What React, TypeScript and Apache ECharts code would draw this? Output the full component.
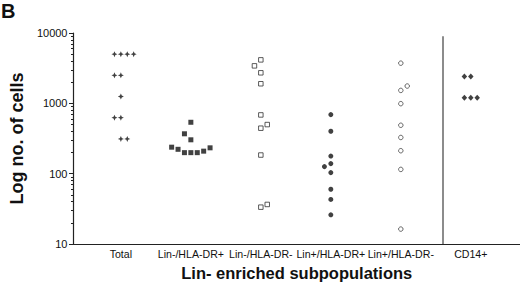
import React, { useEffect, useRef } from "react";
import * as echarts from "echarts";

// ---- data ----
const categories = ["Total", "Lin-/HLA-DR+", "Lin-/HLA-DR-", "Lin+/HLA-DR+", "Lin+/HLA-DR-", "CD14+"];
const yMajorTicks = [10, 100, 1000, 10000];
const yMinorTicks = [20, 30, 40, 50, 60, 70, 80, 90, 200, 300, 400, 500, 600, 700, 800, 900, 2000, 3000, 4000, 5000, 6000, 7000, 8000, 9000];

const totalValues = [5000, 5000, 5000, 5000, 2500, 2500, 1250, 625, 625, 312, 312];
const totalJitter = [-1, 0, 1, 2, -1, 0, 0, -1, 0, 0, 1];

const linNegDrPosValues = [538, 369, 303, 238, 222, 199, 199, 199, 209, 233];
const linNegDrPosJitter = [0, -1, 0, -3, -2, -1, 0, 1, 2, 3];

const linNegDrNegValues = [4150, 3412, 2717, 1898, 684, 443, 499, 184, 33.4, 36.5];
const linNegDrNegJitter = [0, -1, 0, 0, 0, 0, 1, 0, 0, 1];

const linPosDrPosValues = [691, 401, 178, 126, 139, 103.5, 60, 43, 26];
const linPosDrPosJitter = [0, 0, 0, -1, 0, 0, 0, 0, 0];

const linPosDrNegValues = [3725, 1527, 1762, 989, 488, 327, 212, 115, 16.3];
const linPosDrNegJitter = [0, 0, 1, 0, 0, 0, 0, 0, 0];

const cd14Values = [2400, 2400, 1200, 1200, 1200];
const cd14Jitter = [-1, 0, -1, 0, 1];

const separatorX = 4.603;
const separatorTop = 9000;

// ---- layout constants ----
const JITTER_STEP = 0.0915;
const X_MIN = -0.677;
const X_MAX = 5.703;
const FONT = 'Arial, "Liberation Sans", sans-serif';
const INK = "#111111";

const STAR = "path://M0,-5 L1.5,-1.5 L5,0 L1.5,1.5 L0,5 L-1.5,1.5 L-5,0 L-1.5,-1.5 Z";

function build(catIndex: number, values: number[], jitter: number[]) {
  return values.map((v, i) => [catIndex + jitter[i] * JITTER_STEP, v]);
}

export default function App() {
  const ref = useRef<HTMLDivElement>(null);
  useEffect(() => {
    if (!ref.current) return;
    const chart = echarts.init(ref.current, undefined, { renderer: "svg" });
    const yBase = { type: "log", logBase: 10, min: 10, max: 10000, gridIndex: 0 };
    chart.setOption({
      animation: false,
      backgroundColor: "#fff",
      color: [INK],
      title: {
        text: "B",
        left: 1,
        top: 1,
        padding: 0,
        textStyle: { fontSize: 20, fontWeight: "bold", color: INK, fontFamily: FONT },
      },
      grid: { left: 60, right: 0, top: 33, bottom: 41, containLabel: false },
      xAxis: {
        type: "value",
        min: X_MIN,
        max: X_MAX,
        name: "Lin- enriched subpopulations",
        nameLocation: "middle",
        nameGap: 20,
        nameTextStyle: { fontSize: 16.5, fontWeight: "bold", color: INK, fontFamily: FONT, verticalAlign: "top" },
        axisLine: { show: true, onZero: false, lineStyle: { color: "#222", width: 1.2 } },
        axisTick: { show: false },
        splitLine: { show: false },
        axisLabel: {
          customValues: [0, 1, 2, 3, 4, 5],
          formatter: (v: number) => categories[Math.round(v)] ?? "",
          fontSize: 10.6,
          color: INK,
          fontFamily: FONT,
          margin: 4,
        },
      },
      yAxis: [
        {
          ...yBase,
          name: "Log no. of cells",
          nameLocation: "middle",
          nameGap: 40,
          nameTextStyle: { fontSize: 18, fontWeight: "bold", color: INK, fontFamily: FONT },
          axisLine: { show: true, onZero: false, lineStyle: { color: "#222", width: 1.2 } },
          axisTick: { show: true, length: 4.5, customValues: yMajorTicks, lineStyle: { color: "#222" } },
          axisLabel: {
            customValues: yMajorTicks,
            formatter: (v: number) => String(Math.round(v)),
            fontSize: 11,
            color: INK,
            fontFamily: FONT,
            margin: 6,
          },
          splitLine: { show: false },
        },
        {
          ...yBase,
          position: "left",
          axisLine: { show: false, onZero: false, lineStyle: { color: "#222" } },
          axisTick: { show: true, length: 2.5, customValues: yMinorTicks, lineStyle: { color: "#222" } },
          axisLabel: { show: false, color: INK },
          splitLine: { show: false },
        },
      ],
      series: [
        {
          type: "scatter",
          name: categories[0],
          data: build(0, totalValues, totalJitter),
          symbol: STAR,
          symbolSize: 6,
          itemStyle: { color: INK },
        },
        {
          type: "scatter",
          name: categories[1],
          data: build(1, linNegDrPosValues, linNegDrPosJitter),
          symbol: "rect",
          symbolSize: 5,
          itemStyle: { color: INK },
        },
        {
          type: "scatter",
          name: categories[2],
          data: build(2, linNegDrNegValues, linNegDrNegJitter),
          symbol: "rect",
          symbolSize: 4.5,
          itemStyle: { color: "#fff", borderColor: "#333", borderWidth: 1 },
        },
        {
          type: "scatter",
          name: categories[3],
          data: build(3, linPosDrPosValues, linPosDrPosJitter),
          symbol: "circle",
          symbolSize: 5,
          itemStyle: { color: INK },
        },
        {
          type: "scatter",
          name: categories[4],
          data: build(4, linPosDrNegValues, linPosDrNegJitter),
          symbol: "circle",
          symbolSize: 4.5,
          itemStyle: { color: "#fff", borderColor: "#444", borderWidth: 1 },
        },
        {
          type: "scatter",
          name: categories[5],
          data: build(5, cd14Values, cd14Jitter),
          symbol: "diamond",
          symbolSize: [5.5, 6],
          itemStyle: { color: INK },
          markLine: {
            silent: true,
            symbol: "none",
            label: { show: false },
            lineStyle: { color: "#666", width: 1.5, type: "solid" },
            data: [[{ coord: [separatorX, separatorTop] }, { coord: [separatorX, 10] }]],
          },
        },
      ],
    });
    return () => chart.dispose();
  }, []);
  return (
    <div
      ref={ref}
      style={{ position: "absolute", left: 0, top: 0, width: 520, height: 286, background: "#fff" }}
    />
  );
}
